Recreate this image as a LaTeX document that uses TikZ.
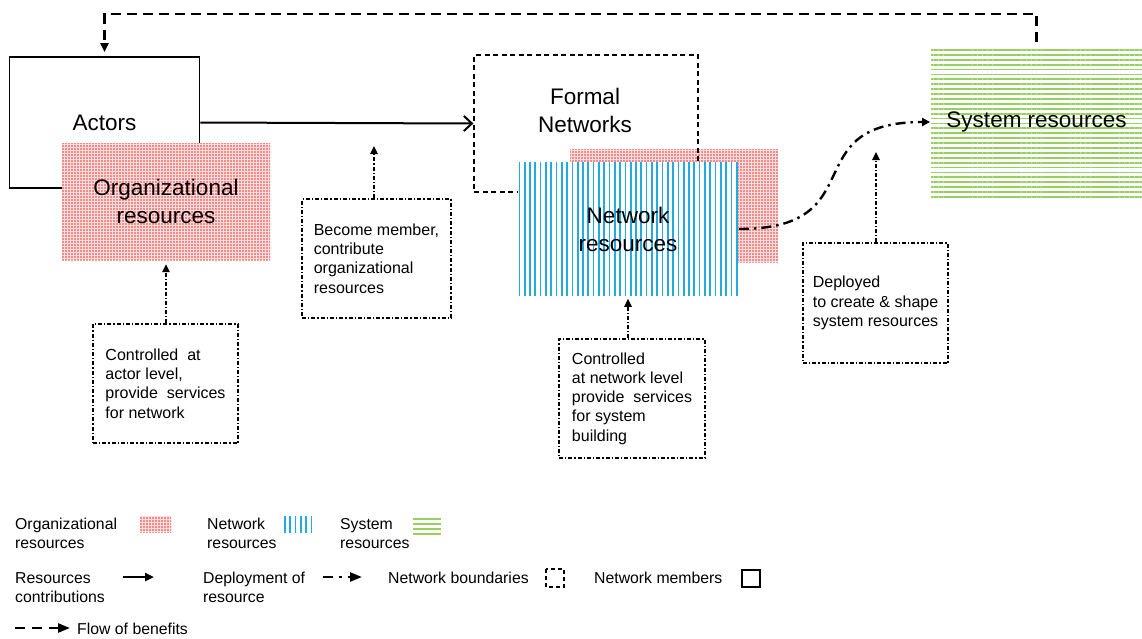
\documentclass[tikz,border=0pt]{standalone}
\usepackage{fontspec}
\setmainfont{Liberation Sans}
\usetikzlibrary{arrows.meta,patterns.meta}
\definecolor{dotred}{RGB}{235,55,55}
\definecolor{pinkbg}{RGB}{252,222,222}
\definecolor{lineblue}{RGB}{35,170,225}
\definecolor{linegreen}{RGB}{150,208,95}
\tikzset{
  big/.style={font=\fontsize{22.5}{28}\selectfont,align=center},
  callfont/.style={font=\fontsize{16}{19.3}\selectfont},
  legfont/.style={font=\fontsize{15.8}{19.6}\selectfont,align=left,inner sep=0pt},
  box/.style={inner sep=0pt},
  orgfill/.style={preaction={fill=pinkbg},pattern={Dots[distance=3pt,radius=0.8pt]},pattern color=dotred},
  netfill/.style={preaction={fill=white},pattern={Lines[angle=90,distance=5.3pt,line width=1.7pt]},pattern color=lineblue},
  sysfill/.style={preaction={fill=white},pattern={Lines[angle=0,distance=4.9pt,line width=1.8pt]},pattern color=linegreen},
  member/.style={draw,line width=1.7pt,fill=white},
  boundary/.style={draw,line width=1.3pt,dash pattern=on 5pt off 3.5pt},
  callbox/.style={draw,line width=1.2pt,dash pattern=on 4pt off 2pt on 1.3pt off 2pt,callfont,align=left,inner sep=0pt},
  callarrow/.style={line width=1.2pt,dash pattern=on 4pt off 2pt on 1.3pt off 2pt,-{Triangle[length=8pt,width=7.5pt]}},
  contrib/.style={line width=2pt,-{Straight Barb[length=8pt,width=15pt]}},
  deploy/.style={line width=2.4pt,dash pattern=on 10pt off 5pt on 2.5pt off 5pt,-{Triangle[length=8pt,width=8pt]}},
  flow/.style={line width=2.5pt,dash pattern=on 10pt off 6pt,-{Triangle[length=9pt,width=8pt]}},
}
\begin{document}
\begin{tikzpicture}[x=1pt,y=-1pt]
\useasboundingbox (0,0) rectangle (1142,638);
\fill[white] (0,0) rectangle (1142,638);

% Actors and organizational resources
\node[member,box,minimum width=190pt,minimum height=131pt,big] (actors) at (104.5,122.5) {Actors};
\node[orgfill,box,minimum width=208pt,minimum height=117pt,big] (org) at (166,201.5) {Organizational\\resources};

% Formal networks
\node[orgfill,box,minimum width=208pt,minimum height=113pt] (redNet) at (674,205.5) {};
\node[boundary,box,minimum width=224pt,minimum height=137pt] (formal) at (586,123.5) {};
\node[big] (formalLabel) at (585,110.5) {Formal\\Networks};
\node[netfill,box,minimum width=220pt,minimum height=134pt,big] (netres) at (628,229) {Network\\resources};

% System resources
\node[sysfill,box,minimum width=211pt,minimum height=150pt,big] (sys) at (1036.5,122) {System resources};

% connectors
\draw[contrib] (actors.east) -- (formal.west);
\draw[deploy] (netres.east) to[out=0,in=180,looseness=1.6] (sys.west);
\coordinate (topY) at (0,14);
\draw[flow,shorten <=4pt,shorten >=4pt] (sys.north) -- (sys.north |- topY) -| (actors.north);

% callouts
\node[callbox,minimum width=149pt,minimum height=119pt] (cbBecome) at (376.5,258.5) {Become member,\\contribute\\organizational\\resources};
\node[callbox,minimum width=145pt,minimum height=119pt] (cbActor) at (165.5,383.5) {Controlled~ at\\actor level,\\provide~ services\\for network};
\node[callbox,minimum width=146pt,minimum height=119pt] (cbNet) at (632,398.5) {Controlled\\at network level\\provide~ services\\for system\\building};
\node[callbox,minimum width=145pt,minimum height=120pt] (cbDep) at (875.5,303) {Deployed\\to create \& shape\\system resources};

\coordinate (becomeTip) at (374,146);
\coordinate (depTip) at (876,152);
\draw[callarrow] (cbBecome.north -| becomeTip) -- (becomeTip);
\draw[callarrow,shorten >=4pt] (org.south |- cbActor.north) -- (org.south);
\draw[callarrow,shorten >=2pt] (netres.south |- cbNet.north) -- (netres.south);
\draw[callarrow] (cbDep.north -| depTip) -- (depTip);

% legend
\node[legfont,anchor=base west] (lgOrg) at (15,548.6) {Organizational\\resources};
\path[orgfill] (140,516) rectangle (171,532);
\node[legfont,anchor=base west] (lgNet) at (207,548.6) {Network\\resources};
\foreach \i in {0,...,5} \draw[lineblue,line width=1.7pt] ({285+5.3*\i},516) -- ({285+5.3*\i},533);
\node[legfont,anchor=base west] (lgSys) at (340,548.6) {System\\resources};
\foreach \i in {0,...,3} \draw[linegreen,line width=1.8pt] (413,{519+5*\i}) -- (441,{519+5*\i});

\node[legfont,anchor=base west] (lgContrib) at (15,602.6) {Resources\\contributions};
\coordinate (lc1) at (123,577);
\coordinate (lc2) at (154,577);
\draw[line width=2.5pt,-{Triangle[length=9pt,width=8pt]}] (lc1) -- (lc2);
\node[legfont,anchor=base west] (lgDeploy) at (203,602.6) {Deployment of\\resource};
\coordinate (ld1) at (323,577);
\coordinate (ld2) at (362,577);
\draw[line width=2.4pt,dash pattern=on 10pt off 6pt on 2.5pt off 6pt,-{Triangle[length=12pt,width=9pt]}] (ld1) -- (ld2);
\node[legfont,anchor=base west] (lgBound) at (388,583) {Network boundaries};
\draw[line width=1.3pt,dash pattern=on 4pt off 3pt] (546,569) rectangle (564,587);
\node[legfont,anchor=base west] (lgMem) at (594,583) {Network members};
\draw[line width=1.8pt] (742,570) rectangle (760,587);

\coordinate (lf1) at (15,628);
\coordinate (lf2) at (70,628);
\draw[line width=2.5pt,dash pattern=on 10pt off 7pt,-{Triangle[length=12pt,width=9pt]}] (lf1) -- (lf2);
\node[legfont,anchor=base west] (lgFlow) at (77,634) {Flow of benefits};
\end{tikzpicture}
\end{document}
